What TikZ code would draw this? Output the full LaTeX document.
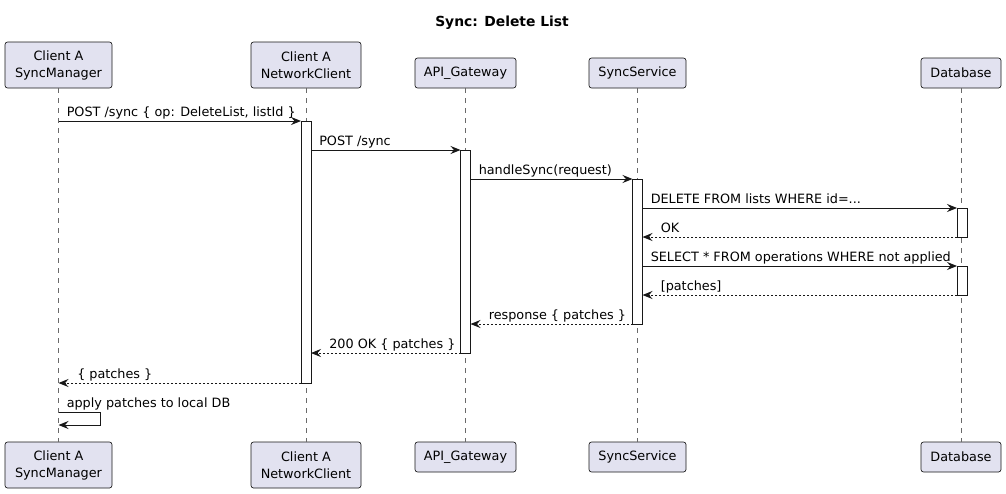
\documentclass[tikz,border=0pt]{standalone}
\usepackage{fontspec}
\setmainfont{DejaVu Sans}
\usetikzlibrary{arrows.meta}
\definecolor{partfill}{HTML}{E2E2F0}
\definecolor{ink}{HTML}{181818}
\begin{document}
\begin{tikzpicture}[x=0.75pt,y=-0.75pt,
  font=\fontsize{9.6pt}{12.75pt}\selectfont,
  part/.style={draw=ink, fill=partfill, rounded corners=1.9pt, line width=0.5pt, inner sep=0pt, align=center},
  tallpart/.style={part, minimum height=34.5pt},
  shortpart/.style={part, minimum height=22.5pt},
  life/.style={draw=ink!65, line width=0.5pt, dash pattern=on 3.75pt off 3.75pt},
  act/.style={draw=ink, fill=white, line width=0.6pt, inner sep=0pt, minimum width=7.5pt, anchor=north},
  msg/.style={draw=ink, line width=0.75pt, -{Stealth[length=7.5pt,width=6pt,inset=2.6pt]}},
  ret/.style={msg, dash pattern=on 1.5pt off 1.5pt},
  lbl/.style={anchor=base west, inner sep=0pt, text=black},
  ttl/.style={font=\bfseries\fontsize{10.4pt}{12pt}\selectfont, inner sep=0pt}
]
\useasboundingbox (0,0) rectangle (1006,493);
\fill[white] (0,0) rectangle (1006,493);

\node[ttl] (title) at (502,23) {Sync: Delete List};

% participants top
\node[tallpart, minimum width=80.25pt] (smT) at (58.5,65) {Client A\\SyncManager};
\node[tallpart, minimum width=82.5pt] (ncT) at (306,65) {Client A\\NetworkClient};
\node[shortpart, minimum width=75.75pt] (agT) at (465.5,73) {API\_Gateway};
\node[shortpart, minimum width=72.75pt] (ssT) at (637.5,73) {SyncService};
\node[shortpart, minimum width=60pt] (dbT) at (961,73) {Database};
% participants bottom
\node[tallpart, minimum width=80.25pt] (smB) at (58.5,465) {Client A\\SyncManager};
\node[tallpart, minimum width=82.5pt] (ncB) at (306,465) {Client A\\NetworkClient};
\node[shortpart, minimum width=75.75pt] (agB) at (465.5,457) {API\_Gateway};
\node[shortpart, minimum width=72.75pt] (ssB) at (637.5,457) {SyncService};
\node[shortpart, minimum width=60pt] (dbB) at (961,457) {Database};

% lifelines
\draw[life] (smT.south) -- (smB.north);
\draw[life] (ncT.south) -- (ncB.north);
\draw[life] (agT.south) -- (agB.north);
\draw[life] (ssT.south) -- (ssB.north);
\draw[life] (dbT.south) -- (dbB.north);

% activations
\node[act, minimum height=196.5pt] (aNC) at (306,121) {};
\node[act, minimum height=152.25pt] (aAG) at (465.5,150) {};
\node[act, minimum height=108.75pt] (aSS) at (637.5,179) {};
\node[act, minimum height=21.75pt] (aDB1) at (962,208) {};
\node[act, minimum height=21.75pt] (aDB2) at (962,266) {};

% message end points
\coordinate (m1s) at (58.5,121);  \coordinate (m1e) at (301,121);
\coordinate (m2s) at (311,150);   \coordinate (m2e) at (460.5,150);
\coordinate (m3s) at (470.5,179); \coordinate (m3e) at (632.5,179);
\coordinate (m4s) at (642.5,208); \coordinate (m4e) at (957,208);
\coordinate (m5s) at (957,237);   \coordinate (m5e) at (642.5,237);
\coordinate (m6s) at (642.5,266); \coordinate (m6e) at (957,266);
\coordinate (m7s) at (957,295);   \coordinate (m7e) at (642.5,295);
\coordinate (m8s) at (632.5,324); \coordinate (m8e) at (470.5,324);
\coordinate (m9s) at (460.5,353); \coordinate (m9e) at (311,353);
\coordinate (m10s) at (301,383);  \coordinate (m10e) at (58.5,383);
\coordinate (m11a) at (58.5,412); \coordinate (m11b) at (100,412);
\coordinate (m11c) at (100,425);  \coordinate (m11d) at (58.5,425);

\draw[msg] (m1s) -- (m1e);
\draw[msg] (m2s) -- (m2e);
\draw[msg] (m3s) -- (m3e);
\draw[msg] (m4s) -- (m4e);
\draw[ret] (m5s) -- (m5e);
\draw[msg] (m6s) -- (m6e);
\draw[ret] (m7s) -- (m7e);
\draw[ret] (m8s) -- (m8e);
\draw[ret] (m9s) -- (m9e);
\draw[ret] (m10s) -- (m10e);
\draw[msg] (m11a) -- (m11b) -- (m11c) -- (m11d);

% labels
\node[lbl] (l1) at (66.5,116) {POST /sync \{ op: DeleteList, listId \}};
\node[lbl] (l2) at (319,145) {POST /sync};
\node[lbl] (l3) at (478.5,174) {handleSync(request)};
\node[lbl] (l4) at (650.5,203) {DELETE FROM lists WHERE id=...};
\node[lbl] (l5) at (660.5,232) {OK};
\node[lbl] (l6) at (650.5,261) {SELECT * FROM operations WHERE not applied};
\node[lbl] (l7) at (660.5,290) {[patches]};
\node[lbl] (l8) at (488.5,319) {response \{ patches \}};
\node[lbl] (l9) at (329,348) {200 OK \{ patches \}};
\node[lbl] (l10) at (77,378) {\{ patches \}};
\node[lbl] (l11) at (66.5,407) {apply patches to local DB};
\end{tikzpicture}
\end{document}
